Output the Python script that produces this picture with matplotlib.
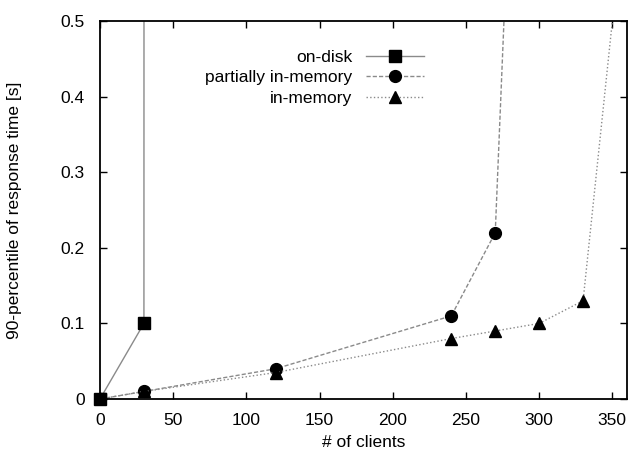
import matplotlib
matplotlib.use('Agg')
import matplotlib.pyplot as plt

# data
disk_x = [0, 30, 31]
disk_y = [0, 0.1, 10.0]

partial_x = [0, 30, 120, 240, 270, 280]
partial_y = [0, 0.01, 0.04, 0.11, 0.22, 0.69]

mem_x = [0, 30, 120, 240, 270, 300, 330, 360]
mem_y = [0, 0.01, 0.035, 0.08, 0.09, 0.10, 0.13, 0.685]

plt.rcParams['font.family'] = ['Liberation Sans', 'DejaVu Sans']
plt.rcParams['font.size'] = 12.5

fig = plt.figure(figsize=(6.33, 4.59), dpi=100)
ax = fig.add_axes([0.158, 0.1307, 0.8325, 0.8233])

grey = '#8a8a8a'
ax.plot(disk_x, disk_y, '-', color=grey, lw=1.0, marker='s', ms=8,
        mfc='black', mec='black', label='on-disk')
ax.plot(partial_x, partial_y, '--', color=grey, lw=1.0, dashes=(3, 1.5),
        marker='o', ms=8.5, mfc='black', mec='black',
        label='partially in-memory')
ax.plot(mem_x, mem_y, ':', color=grey, lw=1.0, marker='^', ms=8,
        mfc='black', mec='black', label='in-memory')
# redraw the zero-point square unclipped, as in the original
ax.plot(disk_x[:1], disk_y[:1], 's', ms=8, color='black', clip_on=False,
        zorder=5)

ax.set_xlim(0, 360)
ax.set_ylim(0, 0.5)
ax.set_xticks(range(0, 351, 50))
ax.set_yticks([0, 0.1, 0.2, 0.3, 0.4, 0.5])
ax.set_yticklabels(['0', '0.1', '0.2', '0.3', '0.4', '0.5'])
ax.tick_params(direction='in', top=True, right=True, length=5, width=1)
ax.tick_params(axis='y', pad=11)
ax.tick_params(axis='x', pad=10)
for s in ax.spines.values():
    s.set_linewidth(1.3)

ax.set_xlabel('# of clients', labelpad=5)
ax.set_ylabel('90-percentile of response time [s]', labelpad=28)

leg = ax.legend(loc='upper left', bbox_to_anchor=(0.17, 0.965), frameon=False,
                markerfirst=False, handlelength=3.3, labelspacing=0.3,
                handletextpad=0.8)
for t in leg.get_texts():
    t.set_ha('right')
leg._legend_box.align = 'right'

fig.savefig('out.png', dpi=100)
